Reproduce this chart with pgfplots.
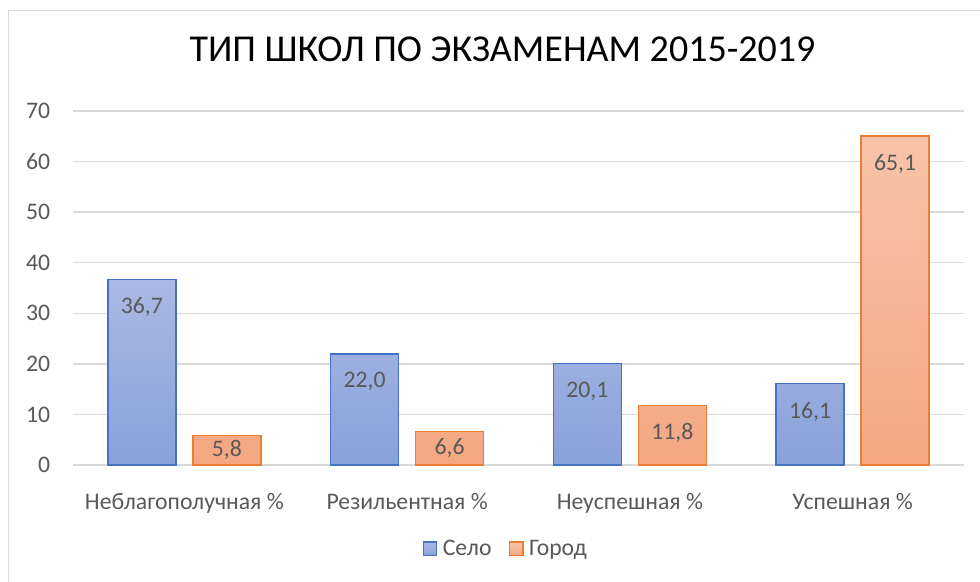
\documentclass[border=0pt]{standalone}
\usepackage{fontspec}
\setmainfont{Carlito}
\usepackage{pgfplots}
\pgfplotsset{compat=1.18}

\definecolor{txt}{HTML}{595959}
\definecolor{gridc}{HTML}{D9D9D9}
\definecolor{blueedge}{HTML}{4472C4}
\definecolor{bluetop}{RGB}{170,185,227}
\definecolor{bluebot}{RGB}{137,161,218}
\definecolor{orangeedge}{HTML}{ED7D31}
\definecolor{orangetop}{RGB}{248,196,170}
\definecolor{orangebot}{RGB}{244,167,130}

\begin{document}
\begin{tikzpicture}
\begin{axis}[
    scale only axis,
    width=668.25pt,
    height=265.5pt,
    ybar=12.75pt,
    bar width=51pt,
    xmin=-0.5, xmax=3.5,
    ymin=0, ymax=70,
    ytick={0,10,...,70},
    xtick=data,
    xticklabels={Неблагополучная \%,Резильентная \%,Неуспешная \%,Успешная \%},
    axis line style={draw=none},
    tick style={draw=none},
    ymajorgrids,
    grid style={gridc, line width=1.1pt},
    /pgf/number format/assume math mode=true,
    ticklabel style={font=\fontsize{17.8}{21}\selectfont, text=txt},
    yticklabel style={anchor=east, inner sep=0pt, xshift=-17pt},
    xticklabel style={anchor=north, inner sep=0pt, yshift=-17pt},
    title={ТИП ШКОЛ ПО ЭКЗАМЕНАМ 2015-2019},
    title style={at={(0.482,1.1525)}, anchor=center, inner sep=0pt,
        font=\fontsize{28.5}{32}\selectfont, text=black},
    legend style={at={(0.486,-0.237)}, anchor=center, draw=none,
        legend columns=-1, font=\fontsize{17.8}{21}\selectfont, text=txt,
        /tikz/every odd column/.append style={column sep=2pt},
        /tikz/every even column/.append style={column sep=11pt}},
    legend image code/.code={\draw[#1] (0pt,-5pt) rectangle (10pt,5pt);},
    visualization depends on={rawy \as \rawy},
    nodes near coords={\pgfmathprintnumber[fixed,fixed zerofill,precision=1,use comma]{\pgfplotspointmeta}},
    nodes near coords style={anchor=center, font=\fontsize{17.8}{21}\selectfont,
        text=txt, yshift={-min(21,1.9*\rawy)*1pt}},
]
\addplot[draw=blueedge, line width=1.2pt, top color=bluetop, bottom color=bluebot]
    coordinates {(0,36.7) (1,22.0) (2,20.1) (3,16.1)};
\addplot[draw=orangeedge, line width=1.2pt, top color=orangetop, bottom color=orangebot]
    coordinates {(0,5.8) (1,6.6) (2,11.8) (3,65.1)};
\legend{Село,Город}
\end{axis}
\draw[gridc, line width=0.9pt] (-48.375pt,-200pt) rectangle (900pt,340.875pt);
\pgfresetboundingbox
\path[use as bounding box] (-54.75pt,-87pt) rectangle (680.25pt,348.75pt);
\end{tikzpicture}
\end{document}
